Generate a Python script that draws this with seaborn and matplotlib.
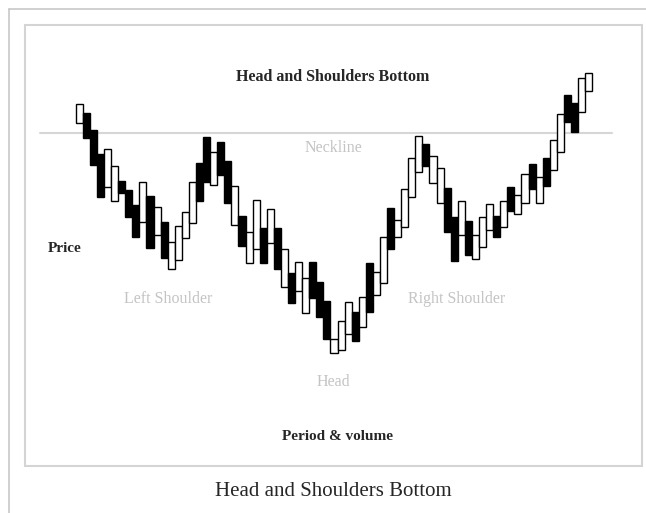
import numpy as np
import matplotlib
matplotlib.use("Agg")
import matplotlib.pyplot as plt
import seaborn as sns
from matplotlib.patches import Rectangle
from matplotlib.lines import Line2D

# DATA: open / close per period (price units)
opens = [277, 287, 270, 246, 213, 199, 219, 210, 195, 178,
         204, 165, 178, 131, 140, 162, 177, 237, 263, 215,
         258, 239, 175, 184, 137, 151, 172, 157, 172, 113,
         127, 109, 87, 138, 118, 99, 47, 50, 66, 88,
         73, 137, 105, 117, 192, 163, 173, 203, 228, 256,
         217, 197, 212, 183, 165, 179, 141, 153, 170, 184,
         173, 213, 186, 197, 236, 197, 242, 230, 248, 305,
         297, 288, 309]
closes = [296, 262, 235, 203, 251, 234, 207, 183, 163, 218,
          152, 193, 142, 158, 174, 188, 218, 199, 218, 248,
          225, 197, 214, 154, 168, 200, 137, 191, 131, 151,
          97, 138, 122, 102, 83, 61, 61, 79, 98, 59,
          103, 88, 128, 163, 151, 180, 211, 242, 264, 234,
          244, 232, 168, 139, 199, 145, 165, 183, 196, 163,
          199, 189, 205, 226, 211, 223, 214, 260, 286, 278,
          268, 322, 327]
neckline = 267

periods = np.arange(len(opens))
opens = np.array(opens)
closes = np.array(closes)
low = np.minimum(opens, closes)
height = np.abs(closes - opens)
colors = np.where(closes >= opens, "white", "black")

sns.set_theme(style="white")
plt.rcParams['font.family'] = ['Liberation Serif', 'DejaVu Serif']

fig = plt.figure(figsize=(6.46, 5.13), dpi=100)
fig.patch.set_facecolor("white")
ax = fig.add_axes([0, 0, 1, 1])
ax.set_xlim(-11.2, 80.1)
ax.set_ylim(-113, 400)
ax.axis("off")

# frames
W, H = 646, 513
fig.add_artist(Line2D([9 / W, 1], [1 - 9 / H, 1 - 9 / H], color="#c8c8c8", lw=1.2))
fig.add_artist(Line2D([9 / W, 9 / W], [0, 1 - 9 / H], color="#c8c8c8", lw=1.2))
fig.add_artist(Rectangle((25 / W, 1 - 466 / H), (642 - 25) / W, (466 - 25) / H,
                         fill=False, edgecolor="#d4d4d4", lw=1.5))

# neckline
ax.axhline(neckline, xmin=40 / W, xmax=612 / W, color="#d6d6d6", lw=1.5, zorder=1)

# candles
ax.bar(periods, height, bottom=low, width=1.0, color=colors,
       edgecolor="black", linewidth=1.0, zorder=2)

gray = "#c4c4c4"
def px(x, y):
    return x / W, 1 - y / H

ax.text(*px(333, 77), "Head and Shoulders Bottom", transform=ax.transAxes,
        ha="center", va="center", fontsize=11.5, fontweight="bold")
ax.text(*px(333, 148), "Neckline", transform=ax.transAxes,
        ha="center", va="center", fontsize=11.5, color=gray)
ax.text(*px(48, 249), "Price", transform=ax.transAxes,
        ha="left", va="center", fontsize=11, fontweight="bold")
ax.text(*px(168, 299), "Left Shoulder", transform=ax.transAxes,
        ha="center", va="center", fontsize=11.5, color=gray)
ax.text(*px(457, 299), "Right Shoulder", transform=ax.transAxes,
        ha="center", va="center", fontsize=11.5, color=gray)
ax.text(*px(333, 382), "Head", transform=ax.transAxes,
        ha="center", va="center", fontsize=11.5, color=gray)
ax.text(*px(337, 436), "Period & volume", transform=ax.transAxes,
        ha="center", va="center", fontsize=11, fontweight="bold")
ax.text(*px(333, 492), "Head and Shoulders Bottom", transform=ax.transAxes,
        ha="center", va="center", fontsize=15)

plt.savefig("out.png", dpi=100, facecolor="white")
